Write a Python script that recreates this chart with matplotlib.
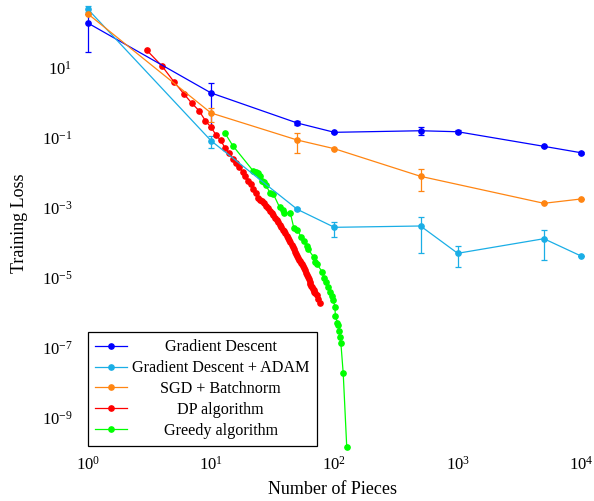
import numpy as np
import matplotlib
matplotlib.use("Agg")
import matplotlib.pyplot as plt

plt.rcParams['font.family'] = ['Liberation Serif', 'DejaVu Serif']
plt.rcParams['mathtext.fontset'] = 'cm'

# Gradient Descent
gd_x = [1, 10, 50, 100, 500, 1000, 5000, 10000]
gd_y = [190, 1.9, 0.263, 0.1425, 0.158, 0.148, 0.0567, 0.0372]
gd_err = [162, 1.7, 0.03, 0.006, 0.04, 0.015, 0.003, 0.002]

# Gradient Descent + ADAM
adam_x = [1, 10, 50, 100, 500, 1000, 5000, 10000]
adam_y = [475, 0.082, 0.0009, 2.75e-4, 3.0e-4, 4.98e-5, 1.3e-4, 4.17e-5]
adam_err = [90, 0.03, 0.00005, 1.25e-4, 2.5e-4, 2.9e-5, 9.8e-5, 0]

# SGD + Batchnorm
sgd_x = [1, 10, 50, 100, 500, 5000, 10000]
sgd_y = [349, 0.508, 0.0859, 0.0485, 0.00788, 0.001336, 0.001774]
sgd_err = [0, 0.22, 0.05, 0, 0.0049, 0, 0]

# DP algorithm
dp_x = list(range(3, 71)) + [72, 74, 77]
dp_y = [32.1, 11.2, 3.98, 1.81, 0.96, 0.59, 0.306, 0.198, 0.119, 0.0832,
        0.0508, 0.0361, 0.0246, 0.0184, 0.01455, 0.01054, 0.00794, 0.00598,
        0.00485, 0.00342, 0.00258, 0.00195, 0.00168, 0.00155, 0.00132,
        0.00114, 0.00098, 0.000815, 0.000691, 0.000602, 0.000508, 0.00044,
        0.00039, 0.000324, 0.000275, 0.000238, 0.000209, 0.000186, 0.000153,
        0.000135, 0.000122, 0.000103, 8.83e-5, 7.54e-5, 6.47e-5, 5.49e-5,
        4.82e-5, 4.22e-5, 3.75e-5, 3.29e-5, 2.98e-5, 2.63e-5, 2.43e-5,
        2.12e-5, 1.88e-5, 1.65e-5, 1.4e-5, 1.23e-5, 1.05e-5, 9.06e-6,
        7.69e-6, 6.6e-6, 5.87e-6, 5.36e-6, 4.85e-6, 4.31e-6, 3.96e-6,
        3.61e-6, 3.2e-6, 2.46e-6, 1.86e-6]

# Greedy algorithm
greedy_x = [13, 15, 22, 23, 24, 25, 26, 27, 28, 30, 32, 36, 38, 39, 44, 47,
            50, 54, 57, 60, 61, 68, 70, 72, 80, 82, 86, 89, 92, 95, 98, 101,
            102, 106, 108, 110, 111, 113, 118, 126]
greedy_y = [0.1336, 0.0595, 0.01119, 0.01069, 0.00962, 0.00789, 0.0059,
            0.00532, 0.00431, 0.00268, 0.00246, 0.001026, 0.000832, 0.000706,
            0.000692, 0.000258, 0.000238, 0.000141, 0.000112, 8.05e-5, 6.6e-5,
            3.9e-5, 2.87e-5, 2.46e-5, 1.46e-5, 9.8e-6, 7.69e-6, 5.53e-6,
            3.98e-6, 3.0e-6, 2.31e-6, 1.48e-6, 8.05e-7, 5.18e-7, 4.45e-7,
            3.06e-7, 2.06e-7, 1.34e-7, 1.86e-8, 1.48e-10]

labels = ["Gradient Descent", "Gradient Descent + ADAM", "SGD + Batchnorm",
          "DP algorithm", "Greedy algorithm"]
colors = ["#0000ff", "#1aaee6", "#ff8512", "#ff0000", "#00ff00"]

W, H = 594, 501
fig = plt.figure(figsize=(W / 100, H / 100), dpi=100)
# axes box in pixels (left, right, top, bottom)
left, right, top, bottom = 87.7, 581.0, -2.3, 452.7
ax = fig.add_axes([left / W, (H - bottom) / H, (right - left) / W, (bottom - top) / H])
ax.set_xscale('log')
ax.set_yscale('log')
ax.set_xlim(1, 1e4)
ax.set_ylim(1e-10, 1e3)

ms = 3.8
lw = 0.9
handles = []
for xs, ys, es, c in [(gd_x, gd_y, gd_err, colors[0]),
                      (adam_x, adam_y, adam_err, colors[1]),
                      (sgd_x, sgd_y, sgd_err, colors[2])]:
    h = ax.errorbar(xs, ys, yerr=es, color=c, marker='o', ms=ms, lw=lw,
                    elinewidth=lw, capsize=2.2, capthick=lw, clip_on=False)
    for art in list(h.lines[1]) + list(h.lines[2]):
        art.set_clip_on(False)
    handles.append(h.lines[0])

h, = ax.plot(dp_x, dp_y, color=colors[3], marker='o', ms=ms, lw=lw, clip_on=False)
handles.append(h)
h, = ax.plot(greedy_x, greedy_y, color=colors[4], marker='o', ms=ms, lw=lw, clip_on=False)
handles.append(h)

ax.set_xticks([1, 10, 100, 1000, 10000])
ax.set_yticks([10.0 ** k for k in range(1, -10, -2)])
ax.minorticks_off()
ax.tick_params(axis='both', length=0, labelsize=12)
ax.tick_params(axis='x', pad=2)
ax.tick_params(axis='y', pad=11)
for s in ax.spines.values():
    s.set_visible(False)

fig.text(20 / W, 1 - 223 / H, "Training Loss", rotation=90, ha='center',
         va='center', fontsize=13)
fig.text(332.5 / W, 1 - 490 / H, "Number of Pieces", ha='center', va='center',
         fontsize=13)

leg = ax.legend(handles, labels, loc='lower left',
                bbox_to_anchor=(0, (bottom - 446) / (bottom - top)),
                borderaxespad=0, fancybox=False, edgecolor='black',
                framealpha=1, fontsize=11.6, handlelength=2.0,
                labelspacing=0.3, borderpad=0.45, handletextpad=0.3)
leg.get_frame().set_linewidth(0.9)

# centre the legend texts like the original
fig.canvas.draw()
renderer = fig.canvas.get_renderer()
widths = [t.get_window_extent(renderer).width for t in leg.get_texts()]
maxw = max(widths)
for t, w in zip(leg.get_texts(), widths):
    t.set_position(((maxw - w) / 2, 0))

fig.savefig("out.png", dpi=100)
